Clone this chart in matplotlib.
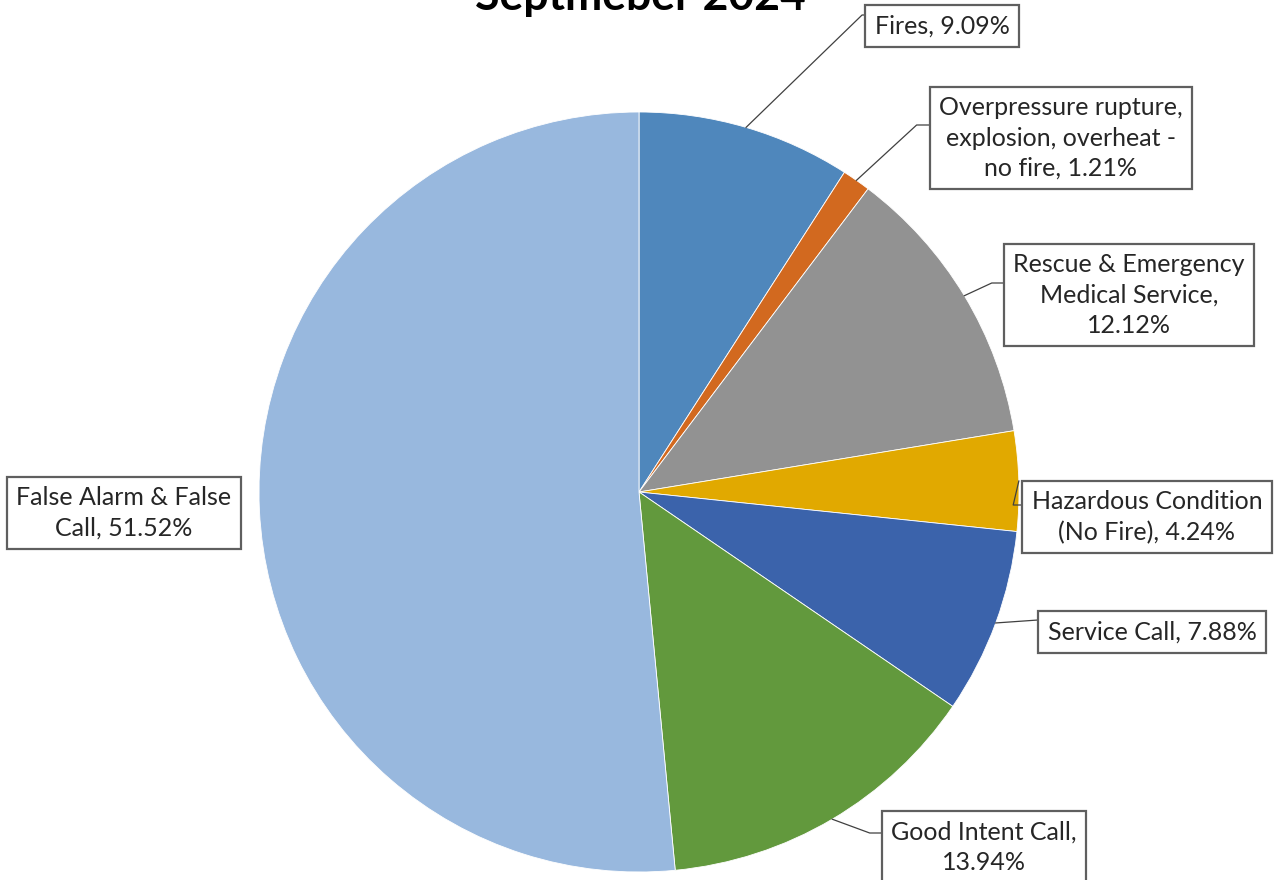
import numpy as np
import matplotlib.pyplot as plt
from matplotlib.lines import Line2D
from matplotlib.transforms import IdentityTransform

plt.rcParams['font.family'] = ['Lato', 'DejaVu Sans']

# data
categories = ["Fires",
              "Overpressure rupture,\nexplosion, overheat -\nno fire",
              "Rescue & Emergency\nMedical Service",
              "Hazardous Condition\n(No Fire)",
              "Service Call",
              "Good Intent Call",
              "False Alarm & False\nCall"]
values = [9.09, 1.21, 12.12, 4.24, 7.88, 13.94, 51.52]
seps = [", ", ", ", ",\n", ", ", ", ", ",\n", ", "]
colors = ["#4F87BC", "#D2691F", "#929292", "#E1A900", "#3B63AB", "#62993D", "#98B8DE"]
title = "Septmeber 2024"

# layout (pixels from top-left of the 1274x880 image)
W, H = 1274, 880
cx, cy, r = 639, 492, 380
box_pos = [(942, 26), (1061, 138), (1129, 295), (1147, 517), (1152, 632), (984, 847), (124, 513)]
anchor_y = [15, 125, 283, 505, 620, 833, None]
elbow = [3, 13, 12, 9, 0, 12, 0]

fig = plt.figure(figsize=(W / 100, H / 100), dpi=100)
ax = fig.add_axes([(cx - r) / W, (H - cy - r) / H, 2 * r / W, 2 * r / H])
wedges, _ = ax.pie(values, colors=colors, startangle=90, counterclock=False, radius=1,
                   wedgeprops=dict(edgecolor='white', linewidth=0.6))
ax.set_xlim(-1, 1)
ax.set_ylim(-1, 1)
ax.axis('off')

fig.text(640 / W, 1 - 10 / H, title, ha='center', va='baseline',
         fontsize=32, fontweight='bold', color='black')

texts = []
for i, (cat, v) in enumerate(zip(categories, values)):
    bx, by = box_pos[i]
    t = fig.text(bx / W, 1 - by / H, f"{cat}{seps[i]}{v:.2f}%", ha='center', va='center',
                 multialignment='center', fontsize=18, color='#262626', linespacing=1.38,
                 bbox=dict(boxstyle='square,pad=0.38', fc='white', ec='#5F5F5F', lw=1.6))
    texts.append(t)

# leader lines
fig.canvas.draw()
renderer = fig.canvas.get_renderer()
for i, t in enumerate(texts):
    if anchor_y[i] is None:
        continue
    bb = t.get_bbox_patch().get_window_extent(renderer)
    w = wedges[i]
    ang = np.deg2rad((w.theta1 + w.theta2) / 2)
    ex, ey = ax.transData.transform((np.cos(ang), np.sin(ang)))
    ay = H - anchor_y[i]
    x0 = bb.x0
    fig.add_artist(Line2D([ex, x0 - elbow[i], x0], [ey, ay, ay], transform=IdentityTransform(),
                          color='#404040', lw=0.9))

fig.savefig('out.png', dpi=100, facecolor='white')
